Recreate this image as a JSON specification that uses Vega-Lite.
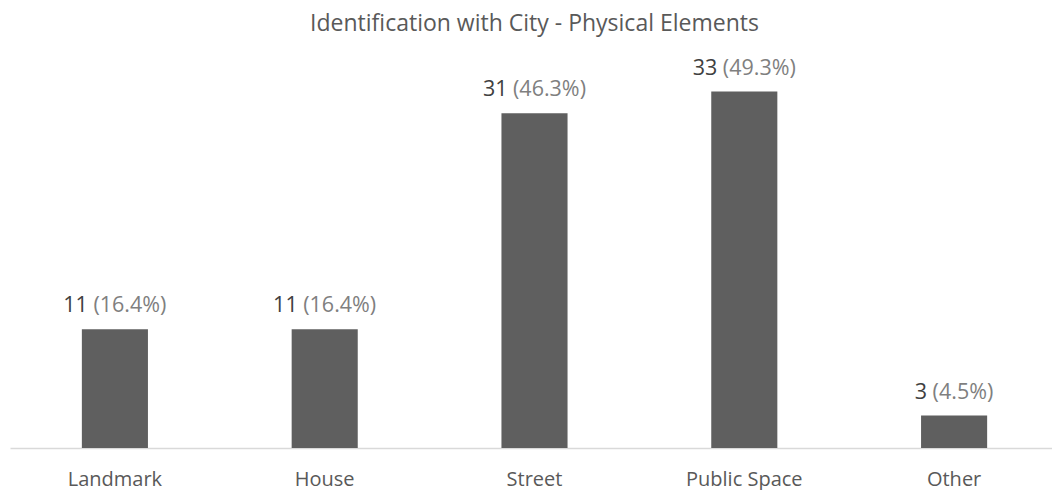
{
  "$schema": "https://vega.github.io/schema/vega-lite/v6.json",
  "autosize": "none",
  "width": 1042,
  "height": 432,
  "padding": {"left": 10, "top": 16, "right": 0, "bottom": 42},
  "background": "#ffffff",
  "config": {
    "view": {"stroke": null},
    "font": "Open Sans"
  },
  "datasets": {
    "counts": [
      {"element": "Landmark", "count": 11, "pct": 16.4},
      {"element": "House", "count": 11, "pct": 16.4},
      {"element": "Street", "count": 31, "pct": 46.3},
      {"element": "Public Space", "count": 33, "pct": 49.3},
      {"element": "Other", "count": 3, "pct": 4.5}
    ],
    "heading": [
      {"text": "Identification with City - Physical Elements"}
    ]
  },
  "layer": [
    {
      "data": {"name": "counts"},
      "transform": [
        {"calculate": "'(' + format(datum.pct, '.1f') + '%)'", "as": "pctLabel"}
      ],
      "encoding": {
        "x": {
          "field": "element",
          "type": "nominal",
          "sort": null,
          "scale": {"domain": ["Landmark", "House", "Street", "Public Space", "Other"], "range": [0, 1049], "paddingInner": 0.685, "paddingOuter": 0.3425},
          "axis": {
            "title": null,
            "ticks": false,
            "tickSize": 0,
            "labelAngle": 0,
            "labelBaseline": "alphabetic",
            "labelPadding": 37,
            "labelFont": "Open Sans",
            "labelFontSize": 20,
            "labelColor": "#595959",
            "domainColor": "#d9d9d9",
            "domainWidth": 1.3
          }
        },
        "y": {
          "field": "count",
          "type": "quantitative",
          "scale": {"domain": [0, 40], "nice": false},
          "axis": null
        }
      },
      "layer": [
        {"mark": {"type": "bar", "color": "#5f5f5f"}},
        {
          "mark": {"type": "text", "align": "right", "baseline": "alphabetic", "dx": -27, "dy": -17, "fontSize": 21.5, "font": "Open Sans", "color": "#404040"},
          "encoding": {"text": {"field": "count", "type": "quantitative"}}
        },
        {
          "mark": {"type": "text", "align": "left", "baseline": "alphabetic", "dx": -21.5, "dy": -17, "fontSize": 21.5, "font": "Open Sans", "color": "#7f7f7f"},
          "encoding": {"text": {"field": "pctLabel", "type": "nominal"}}
        }
      ]
    },
    {
      "data": {"name": "heading"},
      "mark": {"type": "text", "align": "center", "baseline": "alphabetic", "fontSize": 23, "font": "Open Sans", "color": "#595959"},
      "encoding": {
        "x": {"datum": "Street", "type": "nominal"},
        "y": {"datum": 38.6, "type": "quantitative"},
        "text": {"field": "text", "type": "nominal"}
      }
    }
  ]
}
